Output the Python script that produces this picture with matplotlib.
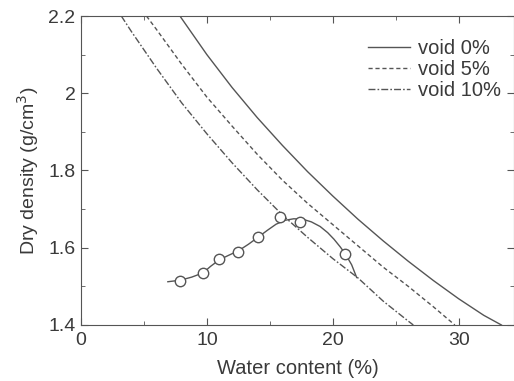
import matplotlib
matplotlib.use("Agg")
import matplotlib.pyplot as plt
from matplotlib.ticker import MultipleLocator

plt.rcParams['font.family'] = ['Liberation Sans', 'DejaVu Sans']

# zero-air-void curves
void0_w = [7.9, 10, 12, 14, 16, 18, 20, 22, 24, 26, 28, 30, 32, 33.4]
void0_d = [2.198, 2.100, 2.015, 1.937, 1.865, 1.797, 1.734, 1.674, 1.618,
           1.565, 1.515, 1.468, 1.425, 1.400]
void5_w = [5.2, 6, 8, 10, 12, 14, 16, 18, 20, 22, 24, 26, 28, 29.7]
void5_d = [2.200, 2.165, 2.075, 1.990, 1.915, 1.842, 1.775, 1.715, 1.660,
           1.605, 1.550, 1.500, 1.447, 1.400]
void10_w = [3.2, 4, 6, 8, 10, 12, 14, 16, 18, 20, 22, 24, 26, 26.4]
void10_d = [2.200, 2.160, 2.065, 1.975, 1.895, 1.820, 1.750, 1.685, 1.627,
            1.572, 1.522, 1.462, 1.410, 1.400]

# measured compaction points
test_w = [7.86, 9.70, 10.97, 12.48, 14.06, 15.79, 17.38, 21.00]
test_d = [1.515, 1.534, 1.571, 1.590, 1.627, 1.679, 1.667, 1.584]

# fitted compaction curve
fit_w = [6.9, 7.9, 8.8, 9.7, 10.3, 11.0, 11.7, 12.5, 13.3, 14.1, 14.8, 15.5,
         16.2, 16.9, 17.6, 18.3, 19.0, 19.6, 20.1, 20.6, 21.0, 21.5, 21.9]
fit_d = [1.512, 1.516, 1.524, 1.535, 1.552, 1.569, 1.580, 1.592, 1.609, 1.628,
         1.645, 1.661, 1.671, 1.675, 1.674, 1.667, 1.655, 1.639, 1.622, 1.602,
         1.584, 1.556, 1.523]

line_col = '#555555'
text_col = '#3a3a3a'

fig = plt.figure(figsize=(5.14, 3.81), dpi=100)
ax = fig.add_axes([0.1576, 0.147, 0.8424, 0.811])

ax.plot(void0_w, void0_d, '-', color=line_col, lw=1.0, label='void 0%')
ax.plot(void5_w, void5_d, color=line_col, lw=1.0, dashes=(3, 2), label='void 5%')
ax.plot(void10_w, void10_d, color=line_col, lw=1.0, dashes=(5, 1.5, 1.2, 1.5), label='void 10%')
ax.plot(fit_w, fit_d, '-', color=line_col, lw=1.0)
ax.plot(test_w, test_d, 'o', ms=7.5, mfc='white', mec=line_col, mew=1.0, ls='none')

ax.set_xlim(0, 34.4)
ax.set_ylim(1.4, 2.2)
ax.xaxis.set_major_locator(MultipleLocator(10))
ax.xaxis.set_minor_locator(MultipleLocator(5))
ax.yaxis.set_minor_locator(MultipleLocator(0.1))
ax.set_yticks([1.4, 1.6, 1.8, 2.0, 2.2])
ax.set_yticklabels(['1.4', '1.6', '1.8', '2', '2.2'])

ax.tick_params(which='both', direction='in', top=True, right=True,
               colors=line_col, labelcolor=text_col, labelsize=14)
ax.tick_params(which='major', length=5)
ax.tick_params(which='minor', length=3)
ax.tick_params(axis='x', pad=5)
ax.tick_params(axis='y', pad=4)
for s in ax.spines.values():
    s.set_color(line_col)

ax.set_xlabel('Water content (%)', fontsize=14.5, color=text_col, labelpad=7)
ax.set_ylabel('Dry density (g/cm$^3$)', fontsize=14, color=text_col, labelpad=5)

ax.legend(loc='upper right', bbox_to_anchor=(0.97, 0.925), frameon=False, fontsize=14.5,
          handlelength=2.1, handletextpad=0.4, labelspacing=0.1, labelcolor=text_col,
          borderaxespad=0, borderpad=0)

fig.savefig('out.png', dpi=100)
